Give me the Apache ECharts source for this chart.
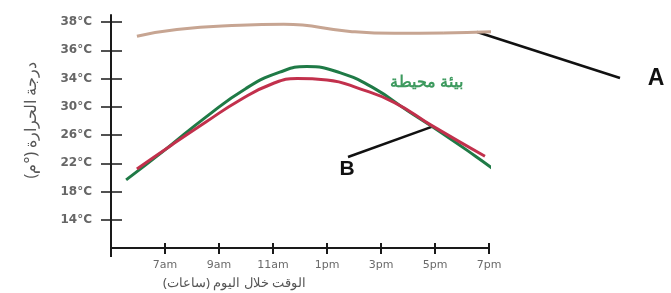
<!DOCTYPE html>
<html>
<head>
<meta charset="utf-8">
<script src="https://cdn.jsdelivr.net/npm/echarts@6/dist/echarts.min.js"></script>
<style>
  html, body { margin: 0; padding: 0; background: #fff; }
  #main { width: 671px; height: 293px; }
</style>
</head>
<body>
<div id="main"></div>
<script>
// tick labels (the y scale is not linear: 4 degrees per step below 34, 2 above)
const yTickTemps = [14, 18, 22, 26, 30, 34, 36, 38];
const xTickHours = [7, 9, 11, 13, 15, 17, 19];
const xTickLabels = ['7am', '9am', '11am', '1pm', '3pm', '5pm', '7pm'];

// readings: hour of day, temperature (C)
const ambientHours = [5.96, 7.44, 9.78, 11.4, 13.85, 15.5, 17.3, 19.4];
const ambientTemps = [37.0, 37.48, 37.77, 37.84, 37.34, 37.2, 37.22, 37.34];

const greenHours = [5.56, 7.0, 8.5, 10.0, 11.25, 12.25, 13.5, 14.75, 16.0, 17.25, 18.5, 19.3];
const greenTemps = [19.65, 23.9, 28.5, 32.6, 34.45, 34.85, 34.4, 32.6, 29.4, 26.3, 23.0, 20.8];

const redHours = [5.96, 7.25, 8.5, 9.75, 11.0, 11.9, 13.0, 14.25, 15.5, 16.9, 18.85];
const redTemps = [21.2, 24.6, 27.8, 30.9, 33.3, 34.0, 33.8, 32.5, 30.6, 27.3, 23.0];

// temperature -> position on the tick index scale
function toIdx(t) {
  for (let i = 0; i < yTickTemps.length - 1; i++) {
    const a = yTickTemps[i], b = yTickTemps[i + 1];
    if (t <= b || i == yTickTemps.length - 2) return i + (t - a) / (b - a);
  }
}

function pairs(hours, temps) {
  return hours.map((h, i) => [h, toIdx(temps[i])]);
}

const tickIdx = yTickTemps.map((t, i) => i);
const axisColor = '#1a1a1a';
const labelFont = 'DejaVu Sans';

var chart = echarts.init(document.getElementById('main'));

var option = {
  animation: false,
  grid: { left: 111, right: 182, top: 15, bottom: 45 },
  xAxis: [{
    type: 'value', min: 5, max: 19,
    axisLine: { show: true, onZero: false, lineStyle: { color: axisColor, width: 2 } },
    axisTick: { show: true, customValues: xTickHours, length: 6, lineStyle: { color: axisColor, width: 2 } },
    axisLabel: {
      customValues: xTickHours, margin: 12, color: '#6a6a6a',
      fontFamily: labelFont, fontSize: 11,
      formatter: (v) => xTickLabels[xTickHours.indexOf(v)] || ''
    },
    splitLine: { show: false }
  }, {
    type: 'value', min: 5, max: 19, position: 'bottom',
    axisLine: { show: false, onZero: false },
    axisTick: { show: true, inside: true, customValues: xTickHours, length: 5, lineStyle: { color: axisColor, width: 2 } },
    axisLabel: { show: false },
    splitLine: { show: false }
  }],
  yAxis: [{
    type: 'value', min: -1, max: 7.25,
    axisLine: { show: true, onZero: false, lineStyle: { color: axisColor, width: 2 } },
    axisTick: { show: true, customValues: tickIdx, length: 10, lineStyle: { color: axisColor, width: 1.5 } },
    axisLabel: {
      customValues: tickIdx, margin: 19, color: '#666',
      fontFamily: labelFont, fontSize: 12, fontWeight: 'bold',
      formatter: (v) => yTickTemps[v] + '°C'
    },
    splitLine: { show: false }
  }, {
    type: 'value', min: -1, max: 7.25, position: 'left',
    axisLine: { show: false, onZero: false },
    axisTick: { show: true, inside: true, customValues: tickIdx, length: 11, lineStyle: { color: axisColor, width: 1.5 } },
    axisLabel: { show: false },
    splitLine: { show: false }
  }],
  series: [
    {
      name: 'ambient', type: 'line', smooth: 0.5, symbol: 'none', clip: false,
      data: pairs(ambientHours, ambientTemps),
      lineStyle: { color: '#c7a592', width: 3 }
    },
    {
      name: 'green', type: 'line', smooth: 0.5, symbol: 'none', clip: false,
      data: pairs(greenHours, greenTemps),
      lineStyle: { color: '#1f7a46', width: 3 }
    },
    {
      name: 'red', type: 'line', smooth: 0.5, symbol: 'none', clip: false,
      data: pairs(redHours, redTemps),
      lineStyle: { color: '#c2304c', width: 3 }
    }
  ]
};

chart.setOption(option);

// annotations pinned to points on the curves
let tipA = chart.convertToPixel({ xAxisIndex: 0, yAxisIndex: 0 }, [18.56, toIdx(37.3)]);
let tipB = chart.convertToPixel({ xAxisIndex: 0, yAxisIndex: 0 }, [16.9, toIdx(27.2)]);
let axisFoot = chart.convertToPixel({ xAxisIndex: 0, yAxisIndex: 0 }, [5, -1]);

chart.setOption({
  graphic: [
    // the y axis line runs a little past the x axis
    { type: 'line', shape: { x1: axisFoot[0], y1: axisFoot[1], x2: axisFoot[0], y2: axisFoot[1] + 9 }, style: { stroke: axisColor, lineWidth: 2 } },
    { type: 'line', shape: { x1: tipA[0], y1: tipA[1], x2: 620, y2: 78 }, style: { stroke: '#111', lineWidth: 2.5 } },
    { type: 'line', shape: { x1: tipB[0], y1: tipB[1], x2: 348, y2: 157 }, style: { stroke: '#111', lineWidth: 2.5 } },
    { type: 'text', x: 656, y: 79, style: { text: 'A', fill: '#111', font: 'bold 23px "Liberation Sans"', align: 'center', verticalAlign: 'middle' } },
    { type: 'text', x: 347, y: 169, style: { text: 'B', fill: '#111', font: 'bold 21px "Liberation Sans"', align: 'center', verticalAlign: 'middle' } },
    { type: 'text', x: 390, y: 82, style: { text: 'بيئة محيطة', fill: '#3d9a5e', font: 'bold 16px "Noto Sans"', align: 'left', verticalAlign: 'middle' } },
    { type: 'text', x: 163, y: 283, style: { text: 'الوقت خلال اليوم (ساعات)', fill: '#555', font: '13px "Noto Sans"', align: 'left', verticalAlign: 'middle' } },
    { type: 'text', x: 31, y: 120, rotation: Math.PI / 2, style: { text: 'درجة الحرارة (°م)', fill: '#555', font: '16px "Noto Sans"', align: 'center', verticalAlign: 'middle' } }
  ]
});
</script>
</body>
</html>
